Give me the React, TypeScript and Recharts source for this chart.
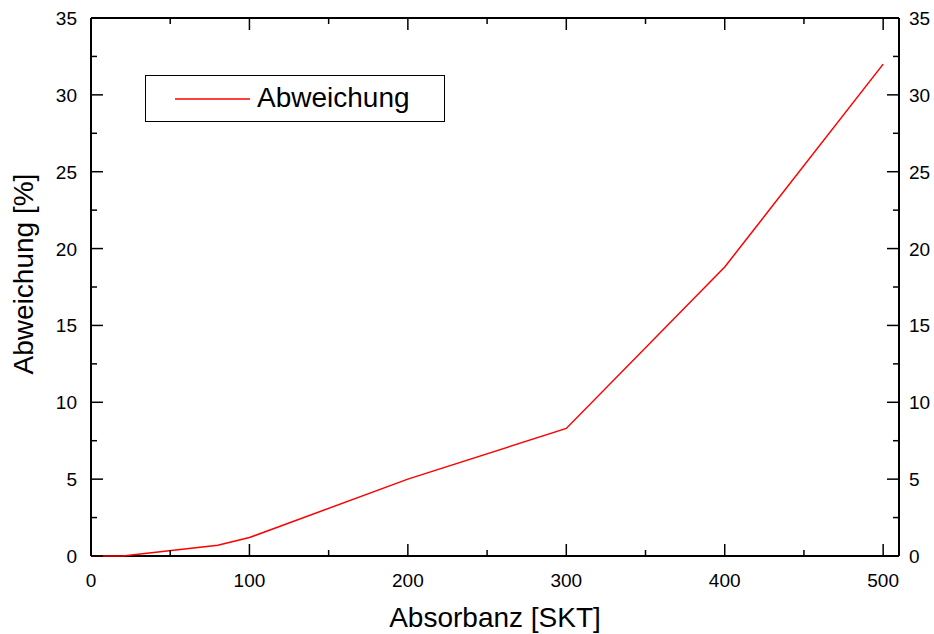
import React from 'react';
import { LineChart, Line, XAxis, YAxis, Legend } from 'recharts';

const absorbanz = [0, 20, 80, 100, 200, 300, 400, 500];
const abweichung = [0, 0, 0.7, 1.2, 5.0, 8.3, 18.8, 32.0];

const xTicks = [0, 50, 100, 150, 200, 250, 300, 350, 400, 450, 500];
const xLabels = [0, 100, 200, 300, 400, 500];
const yTicks = [0, 2.5, 5, 7.5, 10, 12.5, 15, 17.5, 20, 22.5, 25, 27.5, 30, 32.5, 35];
const yLabels = [0, 5, 10, 15, 20, 25, 30, 35];

const data = absorbanz.map((x, i) => ({ x, y: abweichung[i] }));

const FONT = '"Liberation Sans", Arial, sans-serif';

const BottomTick = (props: any) => {
  const { x, y, payload } = props;
  const major = xLabels.includes(payload.value);
  return (
    <g>
      <line x1={x} x2={x} y1={y} y2={y - (major ? 12 : 6)} stroke="#000" strokeWidth={1.5} />
      {major && (
        <text x={x} y={y + 31} textAnchor="middle" fontSize={19} fontFamily={FONT} fill="#000">
          {payload.value}
        </text>
      )}
    </g>
  );
};

const TopTick = (props: any) => {
  const { x, y, payload } = props;
  const major = xLabels.includes(payload.value);
  return <line x1={x} x2={x} y1={y} y2={y + (major ? 12 : 6)} stroke="#000" strokeWidth={1.5} />;
};

const LeftTick = (props: any) => {
  const { x, y, payload } = props;
  const major = yLabels.includes(payload.value);
  return (
    <g>
      <line x1={x} x2={x + (major ? 12 : 6)} y1={y} y2={y} stroke="#000" strokeWidth={1.5} />
      {major && (
        <text x={x - 14} y={y + 7} textAnchor="end" fontSize={19} fontFamily={FONT} fill="#000">
          {payload.value}
        </text>
      )}
    </g>
  );
};

const RightTick = (props: any) => {
  const { x, y, payload } = props;
  const major = yLabels.includes(payload.value);
  return (
    <g>
      <line x1={x} x2={x - (major ? 12 : 6)} y1={y} y2={y} stroke="#000" strokeWidth={1.5} />
      {major && (
        <text x={x + 10} y={y + 7} textAnchor="start" fontSize={19} fontFamily={FONT} fill="#000">
          {payload.value}
        </text>
      )}
    </g>
  );
};

const YTitle = (props: any) => {
  const vb = props.viewBox || {};
  const cx = (vb.x || 0) + 33;
  const cy = (vb.y || 0) + (vb.height || 0) / 2 - 13;
  return (
    <text
      x={cx}
      y={cy}
      transform={`rotate(-90, ${cx}, ${cy})`}
      textAnchor="middle"
      fontSize={28}
      fontFamily={FONT}
      fill="#000"
    >
      Abweichung [%]
    </text>
  );
};

const LegendBox = (props: any) => {
  const item = props.payload && props.payload.find((p: any) => p.value === 'Abweichung');
  return (
    <div
      style={{
        width: 300,
        height: 47,
        boxSizing: 'border-box',
        border: '1.5px solid #000',
        background: '#fff',
        position: 'relative',
        fontFamily: FONT,
      }}
    >
      <svg width={80} height={44} style={{ position: 'absolute', left: 29, top: 0 }}>
        <line x1={0} x2={75} y1={23} y2={23} stroke="red" strokeWidth={1.5} />
      </svg>
      <span style={{ position: 'absolute', left: 111, top: 6, fontSize: 28, lineHeight: '32px', color: '#000' }}>
        {item ? item.value : 'Abweichung'}
      </span>
    </div>
  );
};

export default function App() {
  return (
    <div style={{ position: 'absolute', left: 0, top: 0, width: 934, height: 634, background: '#fff' }}>
      <LineChart width={934} height={634} data={data} margin={{ top: 17, right: 0, bottom: 0, left: 0 }}>
        <XAxis
          xAxisId="b"
          dataKey="x"
          type="number"
          domain={[0, 510]}
          ticks={xTicks}
          orientation="bottom"
          height={78}
          tickSize={0}
          tickMargin={0}
          tickLine={false}
          axisLine={{ stroke: '#000', strokeWidth: 2 }}
          tick={<BottomTick />}
          interval={0}
          label={{
            value: 'Absorbanz [SKT]',
            position: 'insideBottom',
            offset: 7,
            style: { fontSize: 28, fontFamily: FONT, fill: '#000' },
          }}
        />
        <XAxis
          xAxisId="t"
          dataKey="x"
          type="number"
          domain={[0, 510]}
          ticks={xTicks}
          orientation="top"
          height={1}
          tickSize={0}
          tickMargin={0}
          tickLine={false}
          axisLine={{ stroke: '#000', strokeWidth: 2 }}
          tick={<TopTick />}
          interval={0}
        />
        <YAxis
          yAxisId="l"
          type="number"
          domain={[0, 35]}
          ticks={yTicks}
          orientation="left"
          width={91}
          tickSize={0}
          tickMargin={0}
          tickLine={false}
          axisLine={{ stroke: '#000', strokeWidth: 2 }}
          tick={<LeftTick />}
          interval={0}
          label={<YTitle />}
        />
        <YAxis
          yAxisId="r"
          type="number"
          domain={[0, 35]}
          ticks={yTicks}
          orientation="right"
          width={35}
          tickSize={0}
          tickMargin={0}
          tickLine={false}
          axisLine={{ stroke: '#000', strokeWidth: 2 }}
          tick={<RightTick />}
          interval={0}
        />
        <Legend
          layout="horizontal"
          verticalAlign="middle"
          align="center"
          content={<LegendBox />}
          wrapperStyle={{ left: 145, top: 75, width: 300, height: 47 }}
        />
        <Line
          xAxisId="t"
          yAxisId="r"
          dataKey="y"
          name="frame"
          stroke="none"
          legendType="none"
          dot={false}
          activeDot={false}
          isAnimationActive={false}
        />
        <Line
          xAxisId="b"
          yAxisId="l"
          dataKey="y"
          name="Abweichung"
          stroke="red"
          strokeWidth={1.5}
          dot={false}
          zIndex={1000}
          isAnimationActive={false}
        />
      </LineChart>
    </div>
  );
}
